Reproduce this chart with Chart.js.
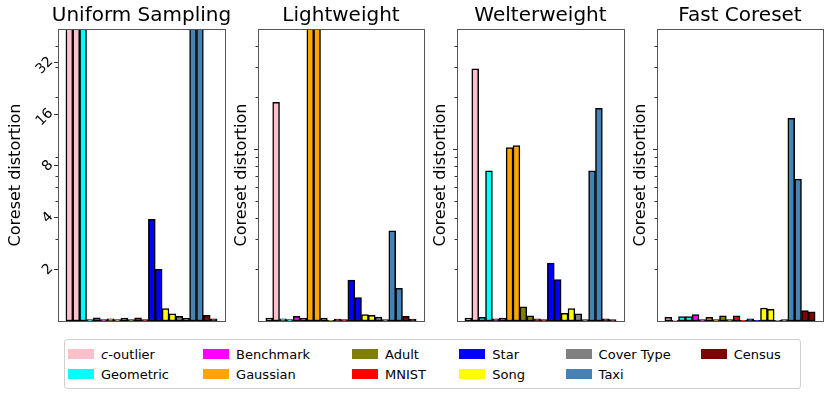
<!DOCTYPE html>
<html>
<head>
<meta charset="utf-8">
<script src="https://cdn.jsdelivr.net/npm/chart.js@4.4.0/dist/chart.umd.min.js"></script>
<style>
  body { margin: 0; background: #fff; font-family: 'DejaVu Sans', sans-serif; }
  #page { position: relative; width: 831px; height: 395px; overflow: hidden; }
  .panel { position: absolute; top: 0; height: 334px; }
  #legend {
    position: absolute; left: 64px; top: 339px; width: 732px; height: 44px;
    border: 1px solid #d0d0d0; border-radius: 3px;
    display: flex; padding: 4px 0 0 3px; box-sizing: content-box;
    font-size: 13px; color: #000;
  }
  .col { display: flex; flex-direction: column; }
  .item { height: 20px; display: flex; align-items: center; white-space: nowrap; }
  .sw { width: 26px; height: 10px; margin-right: 7px; }
</style>
</head>
<body>
<div id="page">
  <div class="panel" style="left:0px;width:230px"><canvas id="c0"></canvas></div>
  <div class="panel" style="left:225px;width:205px"><canvas id="c1"></canvas></div>
  <div class="panel" style="left:424px;width:206px"><canvas id="c2"></canvas></div>
  <div class="panel" style="left:624px;width:207px"><canvas id="c3"></canvas></div>
  <div id="legend"></div>
</div>
<script>
// nomi dei dataset e colori
const dataNames = ['c-outlier', 'Geometric', 'Benchmark', 'Gaussian', 'Adult', 'MNIST',
                   'Star', 'Song', 'Cover Type', 'Taxi', 'Census'];
const dataColors = ['#ffc0cb', '#00ffff', '#ff00ff', '#ffa500', '#808000', '#ff0000',
                    '#0000ff', '#ffff00', '#808080', '#4682b4', '#800000'];

const methodTitles = ['Uniform Sampling', 'Lightweight', 'Welterweight', 'Fast Coreset'];

// two bars per dataset, in dataNames order
const uniformSampling = [180, 150, 90, 1.02, 1.045, 1.02, 1.03, 1.02, 1.04, 1.02, 1.045, 1.02,
                         3.9, 2.0, 1.18, 1.1, 1.065, 1.035, 140, 110, 1.08, 1.03];
const lightweight = [1.04, 18.7, 1.03, 1.02, 1.065, 1.035, 70, 65, 1.04, 1.01, 1.027, 1.02,
                     1.73, 1.37, 1.09, 1.08, 1.055, 1.02, 3.35, 1.55, 1.065, 1.027];
const welterweight = [1.04, 29.3, 1.05, 7.48, 1.03, 1.04, 10.2, 10.5, 1.21, 1.07, 1.03, 1.02,
                      2.17, 1.74, 1.11, 1.18, 1.1, 1.02, 7.48, 17.3, 1.03, 1.02];
const fastCoreset = [1.05, 1.01, 1.06, 1.06, 1.09, 1.02, 1.05, 1.02, 1.07, 1.02, 1.07, 1.01,
                     1.03, 1.01, 1.19, 1.17, 1.01, 1.02, 15.1, 6.69, 1.15, 1.13];
const methodValues = [uniformSampling, lightweight, welterweight, fastCoreset];

// tick dell'asse y
const firstPanelTicks = [2, 4, 8, 16, 32];
const firstPanelMinor = [3, 5, 6, 7, 9, 20, 30, 40];
const otherPanelTicks = [10];
const otherPanelMinor = [2, 3, 4, 5, 6, 7, 8, 9, 20, 30, 40];
const yMin = 1;
const yMax = 50;

// layout of the four panels
const yAxisWidth = [58, 33, 33, 33];
const padRight = [5, 6, 6, 8];
const yTitlePad = [6, 7, 7, 7];

// plugin: tick minori, cornice e titolo centrato sul grafico
const frameAndMinor = {
    id: 'frameAndMinor',
    afterDraw(chart, args, opts) {
        const ctx = chart.ctx;
        const area = chart.chartArea;
        const y = chart.scales.y;
        ctx.save();
        ctx.strokeStyle = '#000';
        ctx.lineWidth = 0.8;
        opts.values.forEach(v => {
            const py = Math.round(y.getPixelForValue(v)) + 0.5;
            ctx.beginPath();
            ctx.moveTo(area.left - 2.5, py);
            ctx.lineTo(area.left, py);
            ctx.stroke();
        });
        ctx.strokeStyle = '#555';
        ctx.lineWidth = 1;
        ctx.strokeRect(Math.round(area.left) + 0.5, Math.round(area.top) + 0.5,
            Math.round(area.right - area.left), Math.round(area.bottom - area.top));

        // titolo (senza compressione orizzontale)
        ctx.fillStyle = '#000';
        ctx.font = '20px "DejaVu Sans"';
        ctx.textAlign = 'center';
        ctx.textBaseline = 'middle';
        ctx.fillText(opts.title, (area.left + area.right) / 2, area.top - 13);
        ctx.restore();
    }
};

function createPanel(i) {
    const values = methodValues[i];
    const points = values.map((v, j) => ({ x: j, y: v }));
    const colors = values.map((v, j) => dataColors[Math.floor(j / 2)]);
    const majors = i === 0 ? firstPanelTicks : otherPanelTicks;
    const minors = i === 0 ? firstPanelMinor : otherPanelMinor;

    const ctx = document.getElementById('c' + i).getContext('2d');
    return new Chart(ctx, {
        type: 'bar',
        data: {
            datasets: [{
                data: points,
                backgroundColor: colors,
                borderColor: '#000',
                borderWidth: 1.5,
                borderSkipped: false,
                barPercentage: 1,
                categoryPercentage: 1,
                clip: 0
            }]
        },
        options: {
            responsive: true,
            maintainAspectRatio: false,
            animation: false,
            layout: { padding: { left: 0, right: padRight[i], top: 29, bottom: 13 } },
            scales: {
                x: {
                    type: 'linear',
                    min: -1.65,
                    max: 22.65,
                    offset: false,
                    display: false
                },
                y: {
                    type: 'logarithmic',
                    min: yMin,
                    max: yMax,
                    afterBuildTicks: s => {
                        s.ticks = majors.map(v => ({ value: v }));
                    },
                    afterFit: s => {
                        s.width = yAxisWidth[i];
                        s.paddingTop = 0;
                        s.paddingBottom = 0;
                    },
                    ticks: {
                        display: i === 0,
                        autoSkip: false,
                        minRotation: 45,
                        maxRotation: 45,
                        padding: 3,
                        labelOffset: -3,
                        color: '#000',
                        font: { family: 'DejaVu Sans', size: 14 },
                        callback: v => String(v)
                    },
                    grid: {
                        display: true,
                        drawOnChartArea: false,
                        drawTicks: true,
                        tickLength: 4,
                        tickColor: '#000',
                        tickWidth: 0.8
                    },
                    border: { display: false },
                    title: {
                        display: true,
                        text: 'Coreset distortion',
                        color: '#000',
                        font: { family: 'DejaVu Sans', size: 16 },
                        padding: { top: yTitlePad[i], bottom: 0 }
                    }
                }
            },
            plugins: {
                legend: { display: false },
                tooltip: { enabled: false },
                frameAndMinor: { values: minors, title: methodTitles[i] }
            }
        },
        plugins: [frameAndMinor]
    });
}

// legenda html, riempita per colonne (2 righe)
function createLegend() {
    const legend = document.getElementById('legend');
    const colWidths = [136, 150, 108, 107, 136, 100];
    for (let c = 0; c < colWidths.length; c++) {
        const col = document.createElement('div');
        col.className = 'col';
        col.style.width = colWidths[c] + 'px';
        for (let r = 0; r < 2; r++) {
            const k = c * 2 + r;
            if (k >= dataNames.length) break;
            const item = document.createElement('div');
            item.className = 'item';
            const sw = document.createElement('span');
            sw.className = 'sw';
            sw.style.background = dataColors[k];
            const label = document.createElement('span');
            if (dataNames[k] === 'c-outlier') {
                label.innerHTML = '<i>c</i>-outlier';
            } else {
                label.textContent = dataNames[k];
            }
            item.appendChild(sw);
            item.appendChild(label);
            col.appendChild(item);
        }
        legend.appendChild(col);
    }
}

window.onload = function () {
    for (let i = 0; i < 4; i++) {
        createPanel(i);
    }
    createLegend();
};
</script>
</body>
</html>
